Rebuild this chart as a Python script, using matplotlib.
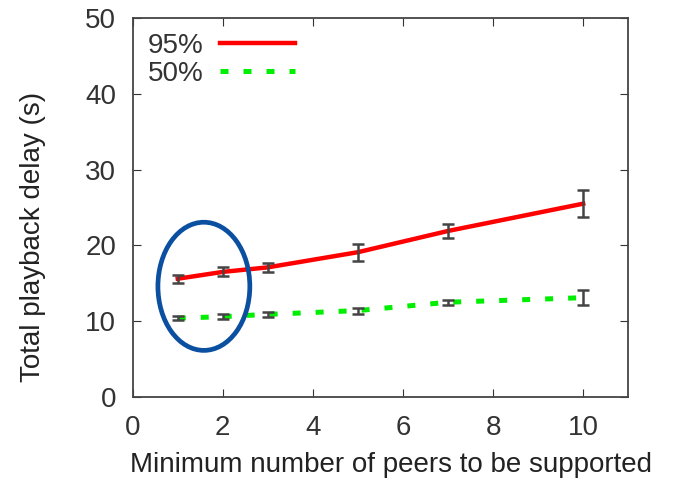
import matplotlib.pyplot as plt
from matplotlib.patches import Ellipse

peers = [1, 2, 3, 5, 7, 10]
delay_95 = [15.6, 16.5, 17.1, 19.1, 21.9, 25.5]
err_95 = [0.5, 0.6, 0.6, 1.1, 0.9, 1.8]
delay_50 = [10.4, 10.6, 10.9, 11.4, 12.5, 13.1]
err_50 = [0.3, 0.3, 0.3, 0.4, 0.3, 1.0]

plt.rcParams['font.family'] = ['Liberation Sans', 'DejaVu Sans']

fig = plt.figure(figsize=(6.77, 4.83), dpi=100)
ax = fig.add_axes([0.196, 0.178, 0.732, 0.785])

ax.plot(peers, delay_95, color='#ff0000', lw=3.2, label='95%', zorder=3)
ax.plot(peers, delay_50, color='#00ee00', lw=3.6, ls=(0, (1.6, 3.0)), label='50%', zorder=3)
ax.errorbar(peers, delay_95, yerr=err_95, fmt='none', ecolor='#444444', elinewidth=1.8, capsize=4, capthick=1.8, zorder=4)
ax.errorbar(peers, delay_50, yerr=err_50, fmt='none', ecolor='#444444', elinewidth=1.8, capsize=4, capthick=1.8, zorder=4)

# blue circle highlighting the first two points
ax.add_patch(Ellipse((1.58, 14.6), 2.04, 16.9, fill=False, edgecolor='#0b4fa0', lw=3.4, zorder=5))

ax.set_xlim(0, 11)
ax.set_ylim(0, 50)
ax.set_xticks([0, 2, 4, 6, 8, 10])
ax.set_yticks([0, 10, 20, 30, 40, 50])
ax.tick_params(direction='in', top=True, right=True, labelsize=20, colors='#333333', length=6)
ax.tick_params(axis='x', pad=13)
ax.tick_params(axis='y', pad=12)
for s in ax.spines.values():
    s.set_color('#444444')
    s.set_linewidth(1.3)
ax.set_xlabel('Minimum number of peers to be supported', fontsize=20, color='#222222')
ax.set_ylabel('Total playback delay (s)', fontsize=20, color='#222222')
ax.xaxis.set_label_coords(0.521, -0.146)
ax.yaxis.set_label_coords(-0.175, 0.422)

ax.legend(loc='upper left', frameon=False, markerfirst=False, fontsize=20, handlelength=2.7,
          labelspacing=0.05, borderaxespad=0.15, handletextpad=0.6, labelcolor='#333333')

fig.savefig('out.png', dpi=100)
